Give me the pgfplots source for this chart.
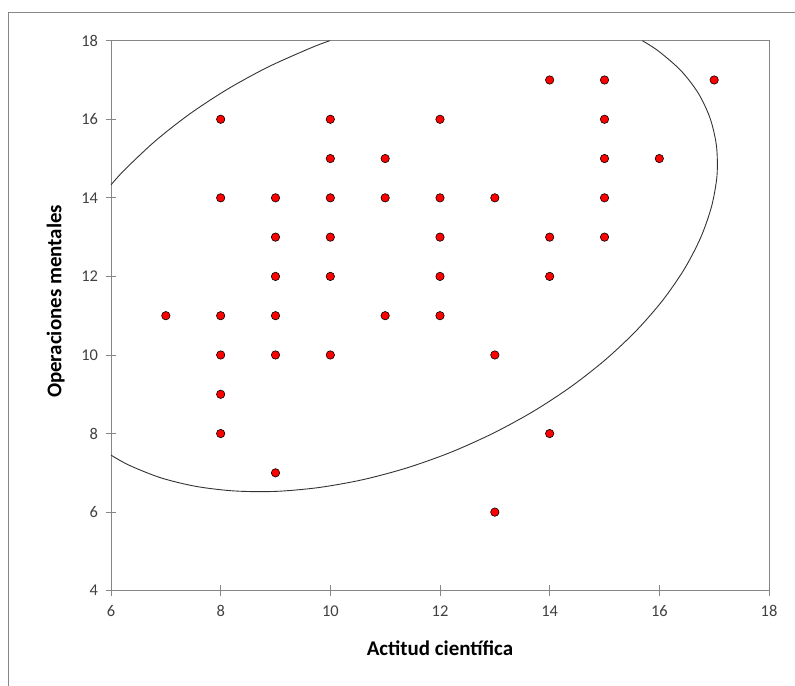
\documentclass[border=0pt]{standalone}
\usepackage{fontspec}
\setmainfont{Carlito}
\usepackage{pgfplots}
\pgfplotsset{compat=1.18}
\definecolor{axgray}{RGB}{134,134,134}
\definecolor{lblgray}{RGB}{64,64,64}
\definecolor{ptred}{RGB}{255,0,0}

% puntos (Actitud cientifica, Operaciones mentales)
\pgfplotstableread{
x  y
7  11
8  16
8  14
8  11
8  10
8  9
8  8
9  14
9  13
9  12
9  11
9  10
9  7
10 16
10 15
10 14
10 13
10 12
10 10
11 15
11 14
11 11
12 16
12 14
12 13
12 12
12 11
13 14
13 10
13 6
14 17
14 13
14 12
14 8
15 17
15 16
15 15
15 14
15 13
16 15
17 17
}\puntos

% elipse, tramo superior izquierdo
\pgfplotstableread{
x      y
6.000  14.330
6.246  14.710
6.808  15.448
7.440  16.140
8.132  16.772
8.870  17.334
9.644  17.816
9.990  18.000
}\elipseA

% elipse, tramo derecho e inferior
\pgfplotstableread{
x      y
15.690 18.000
15.984 17.736
16.393 17.239
16.710 16.664
16.927 16.021
17.042 15.320
17.052 14.574
16.955 13.795
16.757 12.997
16.458 12.192
16.064 11.396
15.582 10.622
15.020  9.884
14.388  9.192
13.696  8.560
12.958  8.000
12.184  7.516
11.388  7.122
10.583  6.823
 9.785  6.625
 9.006  6.528
 8.260  6.538
 7.559  6.653
 6.916  6.870
 6.341  7.187
 6.000  7.450
}\elipseB

\begin{document}
\begin{tikzpicture}
\path[use as bounding box] (-111bp,-95.3bp) rectangle (684bp,590.7bp);
\draw[axgray, line width=0.8bp] (-103bp,-95.3bp) -- (-103bp,578.7bp) -- (684bp,578.7bp);
\begin{axis}[
  scale only axis,
  width=658bp, height=550bp,
  xmin=6, xmax=18, ymin=4, ymax=18,
  xtick={6,8,...,18}, ytick={4,6,...,18},
  xtick pos=bottom, ytick pos=left,
  tick align=center,
  major tick length=11bp,
  axis line style={axgray, line width=0.8bp},
  tick style={axgray, line width=0.8bp},
  tick label style={font=\fontsize{16.5}{18}\selectfont, text=lblgray},
  /pgf/number format/assume math mode=true,
  xticklabel style={yshift=-6bp},
  yticklabel style={xshift=-4bp},
  xlabel={\textbf{Actitud científica}},
  ylabel={\textbf{Operaciones mentales}},
  label style={font=\fontsize{21}{24}\selectfont},
  xlabel style={at={(axis description cs:0.5,-0.104)}, anchor=center},
  ylabel style={at={(axis description cs:-0.084,0.526)}, anchor=center, rotate=0},
]
\addplot[smooth, draw=black!80, line width=0.9bp] table[x=x, y=y] {\elipseA};
\addplot[smooth, draw=black!80, line width=0.9bp] table[x=x, y=y] {\elipseB};
\addplot[only marks, mark=*, mark size=4.2bp,
  mark options={fill=ptred, draw=black, line width=0.6bp}] table[x=x, y=y] {\puntos};
\end{axis}
\end{tikzpicture}
\end{document}
